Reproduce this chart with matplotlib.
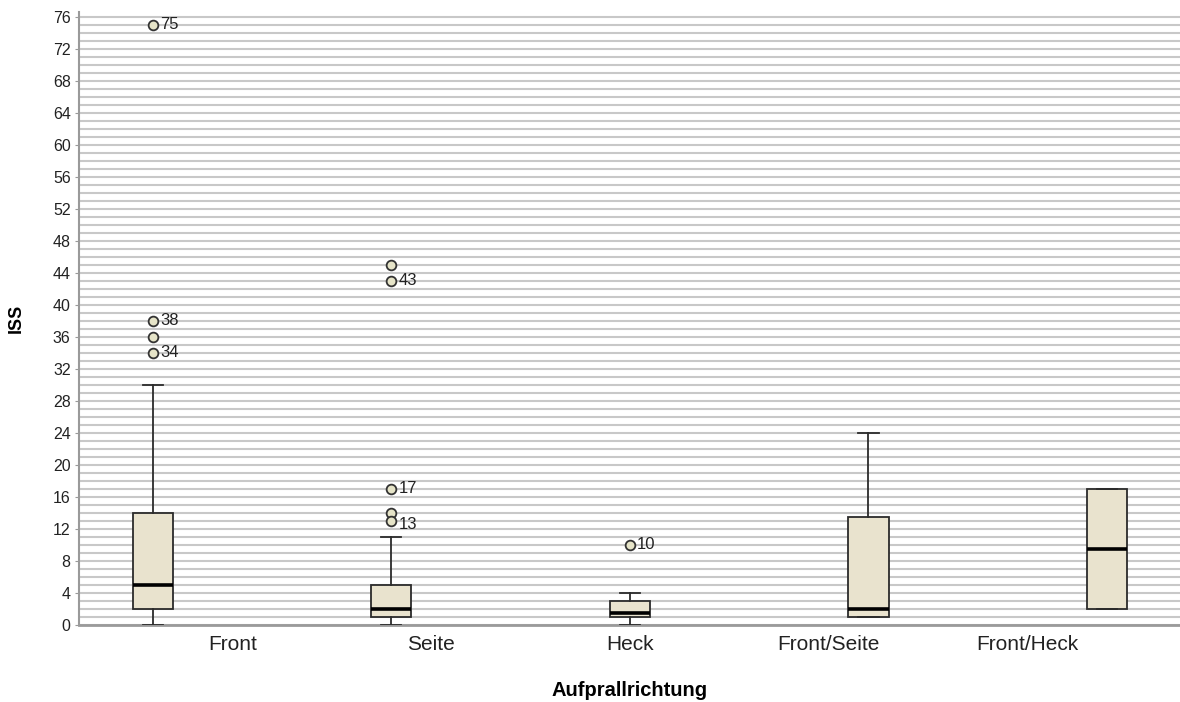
import numpy as np
import matplotlib.pyplot as plt
from matplotlib.ticker import MultipleLocator

plt.rcParams['font.family'] = ['Liberation Sans', 'DejaVu Sans']

# ISS nach Aufprallrichtung (Kennwerte der Boxplots)
kategorien = ['Front', 'Seite', 'Heck', 'Front/Seite', 'Front/Heck']
q1 = [2, 1, 1, 1, 2]
median = [5, 2, 1.5, 2, 9.5]
q3 = [14, 5, 3, 13.5, 17]
whisker_unten = [0, 0, 0, 1, 2]
whisker_oben = [30, 11, 4, 24, 17]
ausreisser = [[75, 38, 36, 34], [45, 43, 17, 14, 13], [10], [], []]
ausreisser_nr = [['75', '38', '', '34'], ['', '43', '17', '', '13'], ['10'], [], []]

box_farbe = '#E9E3CE'
linien_farbe = '#2b2b2b'

stats = []
for i, name in enumerate(kategorien):
    stats.append(dict(label=name, q1=q1[i], med=median[i], q3=q3[i],
                      whislo=whisker_unten[i], whishi=whisker_oben[i],
                      fliers=ausreisser[i]))

fig = plt.figure(figsize=(11.8, 7.02), dpi=100)
ax = fig.add_axes([79 / 1180, 77 / 702, 1 - 79 / 1180, 613 / 702])

pos = np.arange(len(kategorien))
ax.bxp(stats, positions=pos, widths=0.168, capwidths=0.084, patch_artist=True,
       boxprops=dict(facecolor=box_farbe, edgecolor=linien_farbe, linewidth=1.3),
       medianprops=dict(color='black', linewidth=2.6),
       whiskerprops=dict(color=linien_farbe, linewidth=1.3),
       capprops=dict(color=linien_farbe, linewidth=1.3),
       flierprops=dict(marker='o', markersize=7, markerfacecolor='#E6E4C8',
                       markeredgecolor='#333333', markeredgewidth=1.3),
       zorder=3)

# Fallnummern neben den Ausreissern
for i, (werte, nummern) in enumerate(zip(ausreisser, ausreisser_nr)):
    for w, nr in zip(werte, nummern):
        if nr:
            dy = -0.4 if nr == '13' else 0
            ax.text(pos[i] + 0.03, w + dy, nr, fontsize=12, va='center',
                    ha='left', color='#222222', zorder=4)

ax.set_xlim(-0.31, 4.306)
ax.set_ylim(0, 76.6)

ax.yaxis.set_major_locator(MultipleLocator(4))
ax.yaxis.set_minor_locator(MultipleLocator(1))
ax.grid(True, axis='y', which='both', color='#c8c8c8', linewidth=1.5, zorder=0)
ax.set_axisbelow(True)

# Beschriftungen der Kategorien etwas enger gesetzt als die Boxen
label_pos = 2 + (pos - 2) * 0.833
ax.set_xticks(label_pos)
ax.set_xticklabels(kategorien, fontsize=15, color='#222222')
ax.tick_params(axis='x', length=0, pad=7)
ax.tick_params(axis='y', which='major', labelsize=11.5, length=3, color='#999999',
               pad=3, labelcolor='#222222')
ax.tick_params(axis='y', which='minor', length=0)

for s in ['top', 'right']:
    ax.spines[s].set_visible(False)
ax.spines['left'].set_color('#9a9a9a')
ax.spines['left'].set_linewidth(1.5)
ax.spines['bottom'].set_color('#9a9a9a')
ax.spines['bottom'].set_linewidth(2)

ax.set_xlabel('Aufprallrichtung', fontsize=14.5, fontweight='bold', labelpad=20)
ax.set_ylabel('ISS', fontsize=13, fontweight='bold', labelpad=20)

fig.savefig('out.png', dpi=100)
